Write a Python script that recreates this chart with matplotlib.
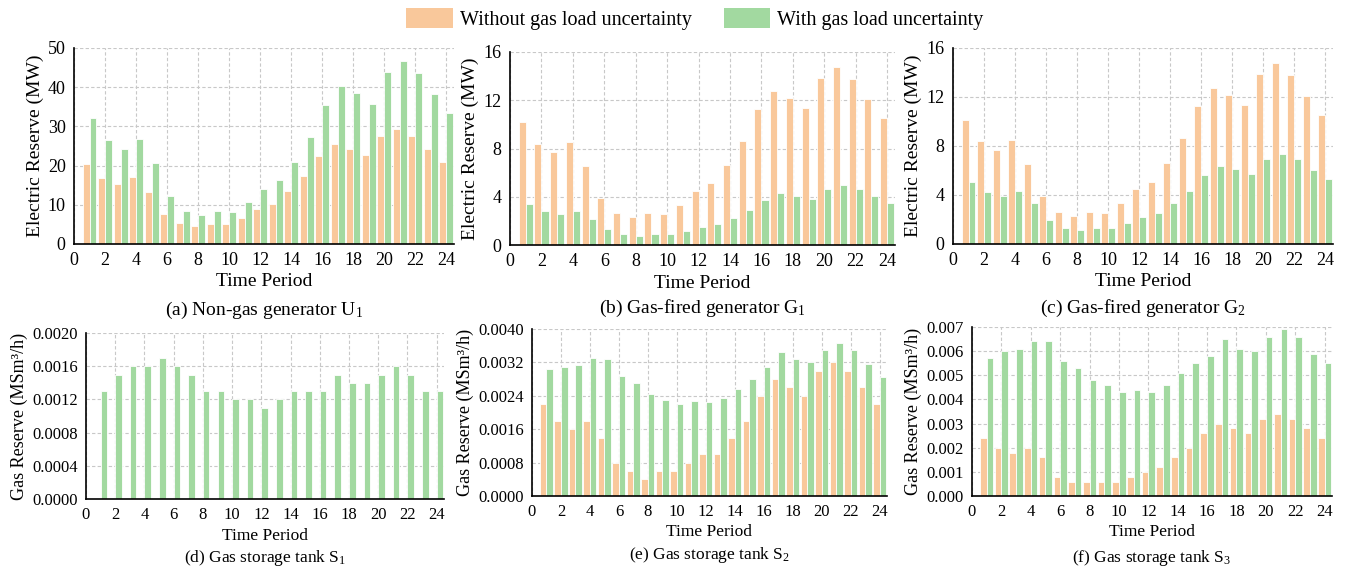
import matplotlib
matplotlib.use('Agg')
import matplotlib.pyplot as plt
from matplotlib.patches import Patch
from matplotlib.ticker import MultipleLocator, FormatStrFormatter
import numpy as np

plt.rcParams['font.family'] = ['Liberation Serif', 'DejaVu Serif']
plt.rcParams['mathtext.fontset'] = 'custom'
plt.rcParams['mathtext.rm'] = 'Liberation Serif'
plt.rcParams['mathtext.it'] = 'Liberation Serif:italic'

# data
periods = np.arange(1, 25)

u1_without = [20.3, 16.8, 15.4, 17.0, 13.2, 7.7, 5.4, 4.7, 5.2, 5.2, 6.7, 8.9,
              10.3, 13.4, 17.3, 22.5, 25.4, 24.3, 22.6, 27.6, 29.4, 27.5, 24.2, 21.0]
u1_with = [32.1, 26.5, 24.3, 26.9, 20.7, 12.3, 8.3, 7.3, 8.3, 8.1, 10.6, 14.1,
           16.2, 21.0, 27.4, 35.5, 40.3, 38.4, 35.8, 43.8, 46.7, 43.5, 38.2, 33.3]

g1_without = [10.18, 8.39, 7.70, 8.50, 6.57, 3.89, 2.62, 2.32, 2.62, 2.57, 3.34, 4.47,
              5.10, 6.65, 8.63, 11.26, 12.74, 12.17, 11.34, 13.85, 14.79, 13.77, 12.08, 10.51]
g1_with = [3.39, 2.81, 2.57, 2.84, 2.18, 1.32, 0.88, 0.77, 0.88, 0.88, 1.13, 1.49,
           1.71, 2.23, 2.90, 3.72, 4.28, 4.08, 3.78, 4.63, 4.94, 4.61, 4.06, 3.50]

g2_without = [10.14, 8.39, 7.70, 8.50, 6.57, 3.89, 2.62, 2.32, 2.62, 2.57, 3.34, 4.47,
              5.10, 6.65, 8.63, 11.26, 12.74, 12.17, 11.34, 13.85, 14.79, 13.77, 12.08, 10.51]
g2_with = [5.08, 4.21, 3.88, 4.29, 3.31, 1.97, 1.31, 1.17, 1.31, 1.28, 1.69, 2.24,
           2.57, 3.31, 4.34, 5.66, 6.39, 6.09, 5.68, 6.94, 7.38, 6.91, 6.07, 5.27]

s1_with = [0.0013, 0.0015, 0.0016, 0.0016, 0.0017, 0.0016, 0.0015, 0.0013, 0.0013, 0.0012, 0.0012, 0.0011,
           0.0012, 0.0013, 0.0013, 0.0013, 0.0015, 0.0014, 0.0014, 0.0015, 0.0016, 0.0015, 0.0013, 0.0013]

s2_without = [0.0022, 0.0018, 0.0016, 0.0018, 0.0014, 0.0008, 0.0006, 0.0004, 0.0006, 0.0006, 0.0008, 0.0010,
              0.0010, 0.0014, 0.0018, 0.0024, 0.0028, 0.0026, 0.0024, 0.0030, 0.0032, 0.0030, 0.0026, 0.0022]
s2_with = [0.00303, 0.0031, 0.00314, 0.0033, 0.00327, 0.00287, 0.0027, 0.00244, 0.0023, 0.0022, 0.00227, 0.00224,
           0.00234, 0.00257, 0.0028, 0.0031, 0.00344, 0.00327, 0.0032, 0.0035, 0.00367, 0.0035, 0.00317, 0.00284]

s3_without = [0.0024, 0.0020, 0.0018, 0.0020, 0.0016, 0.0008, 0.0006, 0.0006, 0.0006, 0.0006, 0.0008, 0.0010,
              0.0012, 0.0016, 0.0020, 0.0026, 0.0030, 0.0028, 0.0026, 0.0032, 0.0034, 0.0032, 0.0028, 0.0024]
s3_with = [0.0057, 0.0060, 0.0061, 0.0064, 0.0064, 0.0056, 0.0053, 0.0048, 0.0046, 0.0043, 0.0044, 0.0043,
           0.0046, 0.0051, 0.0055, 0.0058, 0.0065, 0.0061, 0.0060, 0.0066, 0.0069, 0.0066, 0.0059, 0.0055]

c_without = '#F9C89B'
c_with = '#A2D9A0'
W, H = 1347, 573
bw = 0.45

fig = plt.figure(figsize=(W / 100, H / 100), dpi=100)


def make_ax(l, r, t, b):
    return fig.add_axes([l / W, 1 - b / H, (r - l) / W, (b - t) / H])


panels = [
    # (box, without, with, ylim, ystep, fmt, ylabel, caption, caption y, top row)
    ((74, 454, 48, 244), u1_without, u1_with, 50, 10, '%d', 'Electric Reserve (MW)',
     r'(a) Non-gas generator $\mathrm{U}_1$', 310, True),
    ((510, 895, 52, 245), g1_without, g1_with, 16, 4, '%d', 'Electric Reserve (MW)',
     r'(b) Gas-fired generator $\mathrm{G}_1$', 308, True),
    ((953, 1333, 48, 244), g2_without, g2_with, 16, 4, '%d', 'Electric Reserve (MW)',
     r'(c) Gas-fired generator $\mathrm{G}_2$', 308, True),
    ((86, 444, 333, 499), None, s1_with, 0.002, 0.0004, '%.4f', 'Gas Reserve (MSm³/h)',
     r'(d) Gas storage tank $\mathrm{S}_1$', 558, False),
    ((532, 887, 329, 496), s2_without, s2_with, 0.004, 0.0008, '%.4f', 'Gas Reserve (MSm³/h)',
     r'(e) Gas storage tank $\mathrm{S}_2$', 555, False),
    ((972, 1332, 327, 496), s3_without, s3_with, 0.007, 0.001, '%.3f', 'Gas Reserve (MSm³/h)',
     r'(f) Gas storage tank $\mathrm{S}_3$', 558, False),
]

for box, wo, wi, ymax, ystep, fmt, ylab, cap, cap_y, top in panels:
    ax = make_ax(*box)
    if wo is not None:
        ax.bar(periods - bw / 2, wo, width=bw, color=c_without, edgecolor='white', linewidth=0.6, zorder=2)
    ax.bar(periods + bw / 2, wi, width=bw, color=c_with, edgecolor='white', linewidth=0.6, zorder=2)
    ax.set_xlim(0, 24.5)
    ax.set_ylim(0, ymax)
    ax.xaxis.set_major_locator(MultipleLocator(2))
    ax.yaxis.set_major_locator(MultipleLocator(ystep))
    ax.yaxis.set_major_formatter(FormatStrFormatter(fmt))
    ax.grid(True, linestyle=(0, (3, 2)), color='#c8c8c8', linewidth=0.8, zorder=0)
    ax.set_axisbelow(True)
    for s in ['top', 'right']:
        ax.spines[s].set_visible(False)
    for s in ['left', 'bottom']:
        ax.spines[s].set_linewidth(1.2)
        ax.spines[s].set_zorder(5)
    ax.tick_params(length=0, pad=6)
    fs_tick = 13 if top else 12
    fs_lab = 14 if top else 12.5
    ax.tick_params(axis='both', labelsize=fs_tick)
    ax.set_xlabel('Time Period', fontsize=fs_lab, labelpad=3)
    ax.set_ylabel(ylab, fontsize=14 if top else 13, labelpad=3)
    cx = (box[0] + box[1]) / 2 / W
    fig.text(cx, 1 - cap_y / H, cap, ha='center', va='center', fontsize=14 if top else 12.5)

handles = [Patch(facecolor=c_without, edgecolor='none', label='Without gas load uncertainty'),
           Patch(facecolor=c_with, edgecolor='none', label='With gas load uncertainty')]
fig.legend(handles=handles, loc='center', bbox_to_anchor=(695 / W, 1 - 19 / H), ncol=2,
           frameon=False, fontsize=14.5, handlelength=2.3, handleheight=1.15,
           columnspacing=1.6, handletextpad=0.35)

fig.savefig('out.png', dpi=100)
